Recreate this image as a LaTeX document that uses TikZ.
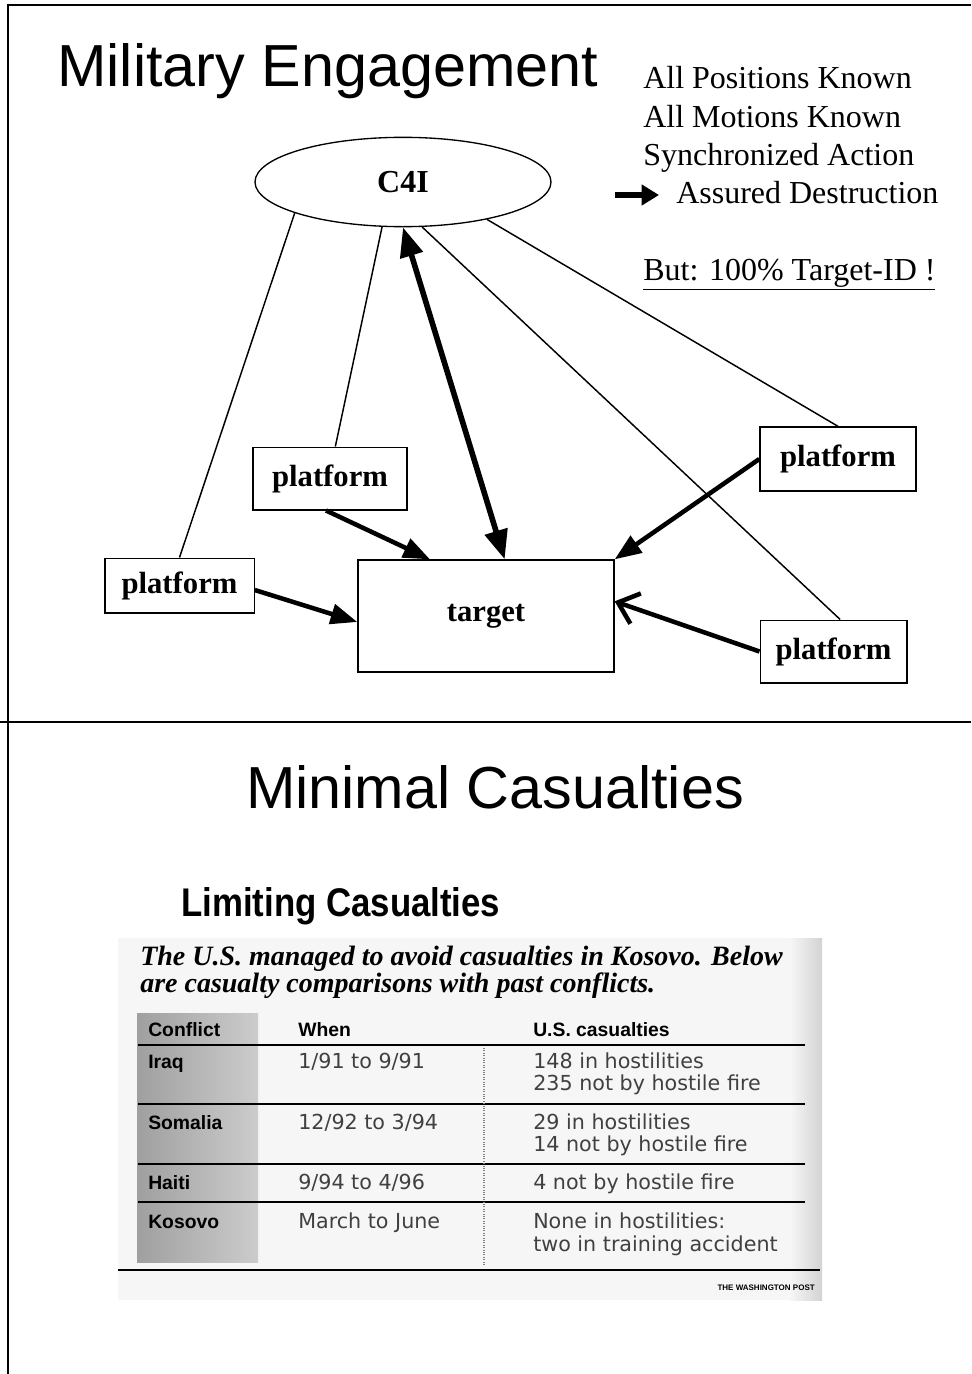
\documentclass[tikz,border=0pt]{standalone}
\usepackage{graphicx}
\usepackage{fontspec}
\setmainfont{Liberation Serif}
\newfontfamily\arialfont{Liberation Sans}
\newfontfamily\verdfont{DejaVu Sans}
\usetikzlibrary{shapes.geometric,arrows.meta}
\begin{document}
\begin{tikzpicture}[x=0.75pt,y=-0.75pt]
\tikzset{plat/.style={draw, line width=1pt, inner sep=0pt, font=\fontsize{23}{26}\selectfont\bfseries},
  lien/.style={line width=1.1pt},
  fleche/.style={line width=3.4pt, -{Triangle[length=20pt,width=15pt]}},
  txt/.style={anchor=base west, inner sep=0pt, font=\fontsize{24}{28}\selectfont},
  cel/.style={anchor=base west, inner sep=0pt, text=black!75, font=\verdfont\fontsize{15.5}{18}\selectfont},
  tete/.style={anchor=base west, inner sep=0pt, font=\arialfont\bfseries\fontsize{14.5}{16}\selectfont},
  regle/.style={line width=1.5pt}}
\useasboundingbox (0,0) rectangle (971,1374);
\draw[line width=1.2pt] (971,5) -- (8,5) -- (8,1374);
\draw[line width=2pt] (0,722) -- (971,722);
\node[anchor=base west, inner sep=0pt, font=\arialfont\fontsize{44.5}{50}\selectfont] (T1) at (57,86) {Military Engagement};
\node[draw, ellipse, line width=1pt, minimum width=222pt, minimum height=67pt, font=\fontsize{24}{28}\selectfont\bfseries] (C4I) at (403,182) {C4I};
\node[plat, minimum width=112pt, minimum height=41pt] (P1) at (179.5,585.5) {platform};
\node[plat, minimum width=115.5pt, minimum height=47pt] (P2) at (330,478.5) {platform};
\node[plat, minimum width=117pt, minimum height=48pt] (P3) at (838,459) {platform};
\node[plat, minimum width=110pt, minimum height=47pt] (P4) at (833.5,651.5) {platform};
\node[plat, minimum width=192pt, minimum height=84pt] (T) at (486,616) {target};
\draw[lien] (C4I.196) -- (P1.north);
\draw[lien] (C4I.245) -- ([xshift=4pt]P2.north);
\draw[lien] (C4I.336) -- (P3.north);
\draw[lien] (C4I.293) -- ([xshift=5pt]P4.north);
\draw[line width=4.2pt, {Triangle[length=22pt,width=17pt]}-{Triangle[length=22pt,width=17pt]}] (C4I.south) -- ([xshift=14pt]T.north);
\draw[fleche] ([xshift=-3pt]P2.south) -- ([xshift=-42pt]T.north);
\draw[fleche] ([yshift=-3.4pt]P1.east) -- ([yshift=-4.5pt]T.west);
\draw[fleche] (P3.west) -- (T.north east);
\draw[line width=3.4pt, -{Straight Barb[length=14pt,width=24pt]}] (P4.west) -- ([yshift=11pt]T.east);
\node[txt] (L1) at (643,88) {All Positions Known};
\node[txt] (L2) at (643,127) {All Motions Known};
\node[txt] (L3) at (643,165) {Synchronized Action};
\node[txt] (L4) at (676,203) {Assured Destruction};
\coordinate (A0) at (615,195);
\coordinate (A1) at (659,195);
\draw[line width=4pt, -{Triangle[length=13pt,width=15pt]}] (A0) -- (A1);
\node[txt] (L5) at (643,280) {\underline{But: 100\% Target-ID !}};
\node[anchor=base, inner sep=0pt, font=\arialfont\fontsize{44.5}{50}\selectfont] (T2) at (495,808) {Minimal Casualties};
\fill[gray!7] (118,938) rectangle (822,1300);
\shade[left color=gray!7, right color=gray!35] (790,938) rectangle (822,1300);
\shade[left color=gray!75, right color=gray!40] (137,1013) rectangle (258,1262);
\node[anchor=base west, inner sep=0pt, font=\arialfont\bfseries\fontsize{30}{34}\selectfont] (H) at (181,916) {\scalebox{0.87}[1]{Limiting Casualties}};
\node[anchor=base west, inner sep=0pt, font=\bfseries\itshape\fontsize{21}{25}\selectfont] (S1) at (140,965) {The U.S. managed to avoid casualties in Kosovo. Below};
\node[anchor=base west, inner sep=0pt, font=\bfseries\itshape\fontsize{21}{25}\selectfont] (S2) at (140,992) {are casualty comparisons with past conflicts.};
\node[tete] (C0) at (148,1036) {Conflict};
\node[tete] (W0) at (298,1036) {When};
\node[tete] (U0) at (533,1036) {U.S. casualties};
\draw[line width=2.2pt] (138,1045) -- (805,1045);
\node[tete] (C1) at (148,1068) {Iraq};
\node[cel] (W1) at (298,1068) {1/91 to 9/91};
\node[cel] (U1) at (533,1068) {148 in hostilities};
\node[cel] (V1) at (533,1090) {235 not by hostile fire};
\draw[regle] (138,1104) -- (805,1104);
\node[tete] (C2) at (148,1129) {Somalia};
\node[cel] (W2) at (298,1129) {12/92 to 3/94};
\node[cel] (U2) at (533,1129) {29 in hostilities};
\node[cel] (V2) at (533,1151) {14 not by hostile fire};
\draw[regle] (138,1164) -- (805,1164);
\node[tete] (C3) at (148,1189) {Haiti};
\node[cel] (W3) at (298,1189) {9/94 to 4/96};
\node[cel] (U3) at (533,1189) {4 not by hostile fire};
\draw[regle] (138,1202) -- (805,1202);
\node[tete] (C4) at (148,1228) {Kosovo};
\node[cel] (W4) at (298,1228) {March to June};
\node[cel] (U4) at (533,1228) {None in hostilities:};
\node[cel] (V4) at (533,1251) {two in training accident};
\draw[gray, densely dotted, line width=0.8pt] (484,1048) -- (484,1265);
\draw[line width=2.2pt] (118,1270) -- (820,1270);
\node[anchor=base east, inner sep=0pt, font=\arialfont\bfseries\fontsize{6}{7}\selectfont] (WP) at (815,1290) {THE WASHINGTON POST};
\end{tikzpicture}
\end{document}
